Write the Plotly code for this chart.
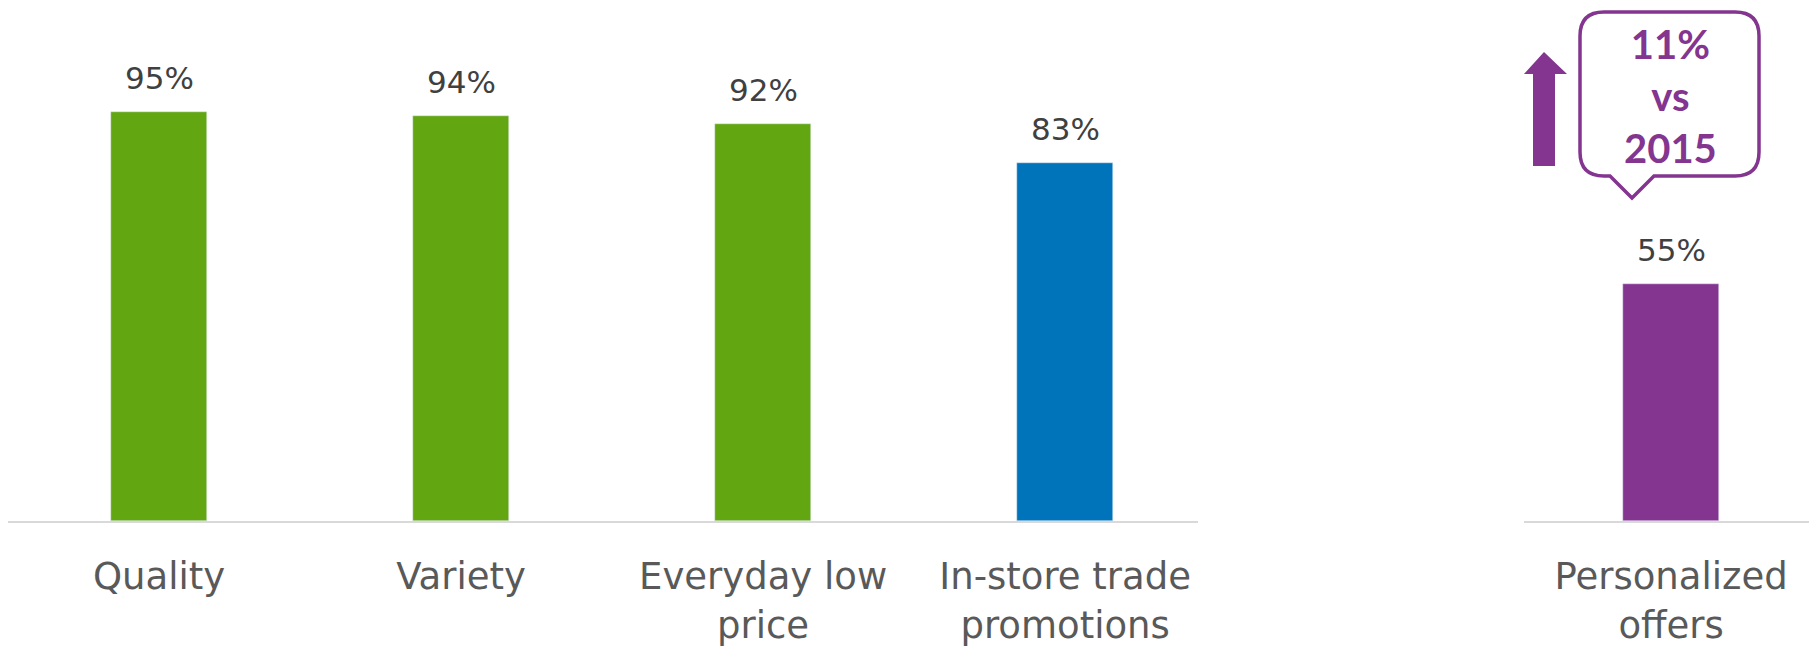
import plotly.graph_objects as go

# ---- data ----
left_categories = ["Quality", "Variety", "Everyday low<br>price", "In-store trade<br>promotions"]
left_values = [95, 94, 92, 83]
left_colors = ["#62A612", "#62A612", "#62A612", "#0074BB"]

right_categories = ["Personalized<br>offers"]
right_values = [55]
right_colors = ["#84358F"]

callout_text = "11%<br>vs<br>2015"

W, H = 1817, 646
OFF = 8  # page body margin

def px(x):
    return (x - OFF) / W

def py(y):
    return 1 - (y - OFF) / H

fig = go.Figure()
fig.add_trace(go.Bar(x=left_categories, y=left_values, marker_color=left_colors,
                     width=0.32, xaxis="x", yaxis="y", hoverinfo="skip"))
fig.add_trace(go.Bar(x=right_categories, y=right_values, marker_color=right_colors,
                     width=0.32, xaxis="x2", yaxis="y2", hoverinfo="skip"))

valfont = dict(family="DejaVu Sans", size=31, color="#404040")
annotations = []
for c, v in zip(left_categories, left_values):
    annotations.append(dict(x=c, y=v, xref="x", yref="y", text=f"{v}%", showarrow=False,
                            yanchor="bottom", yshift=14, font=valfont))
for c, v in zip(right_categories, right_values):
    annotations.append(dict(x=c, y=v, xref="x2", yref="y2", text=f"{v}%", showarrow=False,
                            yanchor="bottom", yshift=14, font=valfont))

annotations.append(dict(x=px(1670), y=py(96), xref="paper", yref="paper", text=callout_text,
                        showarrow=False, xanchor="center", yanchor="middle",
                        font=dict(family="Lato", size=40, color="#84358F", weight="bold")))

def P(x, y):
    return f"{px(x):.5f},{py(y):.5f}"

r = 24
L, R, T, B = 1580, 1759, 12, 176
bubble = (f"M {P(L+r,T)} L {P(R-r,T)} Q {P(R,T)} {P(R,T+r)} L {P(R,B-r)} Q {P(R,B)} {P(R-r,B)} "
          f"L {P(1654,B)} L {P(1632,198)} L {P(1610,B)} L {P(L+r,B)} Q {P(L,B)} {P(L,B-r)} "
          f"L {P(L,T+r)} Q {P(L,T)} {P(L+r,T)} Z")
arrow = (f"M {P(1544,52)} L {P(1567,74)} L {P(1555,74)} L {P(1555,166)} L {P(1533,166)} "
         f"L {P(1533,74)} L {P(1524,74)} Z")

shapes = [
    dict(type="path", path=bubble, xref="paper", yref="paper",
         line=dict(color="#84358F", width=3.5), fillcolor="rgba(0,0,0,0)"),
    dict(type="path", path=arrow, xref="paper", yref="paper",
         line=dict(width=0), fillcolor="#84358F"),
]

tickfont = dict(family="DejaVu Sans", size=37, color="#595959")
ydom = [1 - (521 - OFF) / H, 1 - (90 - OFF) / H]

fig.update_layout(
    width=W, height=H, autosize=False,
    margin=dict(l=0, r=0, t=0, b=0),
    paper_bgcolor="white", plot_bgcolor="white",
    showlegend=False,
    bargap=0,
    xaxis=dict(domain=[px(8), px(1198)], range=[-0.5, 3.44], showline=True, linecolor="#D9D9D9",
               linewidth=2, showgrid=False, zeroline=False, ticks="", tickfont=tickfont,
               ticklabelstandoff=22, anchor="y", fixedrange=True),
    xaxis2=dict(domain=[px(1524), px(1817)], range=[-0.487, 0.483], showline=True, linecolor="#D9D9D9",
                linewidth=2, showgrid=False, zeroline=False, ticks="", tickfont=tickfont,
                ticklabelstandoff=22, anchor="y2", fixedrange=True),
    yaxis=dict(domain=ydom, range=[0, 100], visible=False, anchor="x"),
    yaxis2=dict(domain=ydom, range=[0, 100], visible=False, anchor="x2"),
    annotations=annotations,
    shapes=shapes,
)

fig.write_html("out.html")
